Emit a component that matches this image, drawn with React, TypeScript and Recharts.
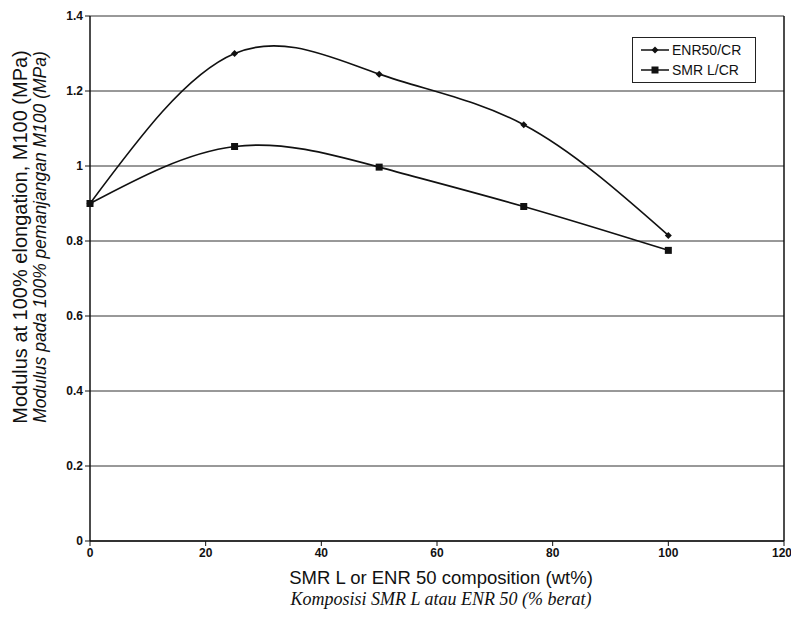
import React from 'react';
import { LineChart, Line, XAxis, YAxis, CartesianGrid, ReferenceLine, Label } from 'recharts';

const compositions = [0, 25, 50, 75, 100];
const enrValues = [0.9, 1.3, 1.245, 1.11, 0.815];
const smrValues = [0.9, 1.052, 0.997, 0.892, 0.775];
const seriesNames = ['ENR50/CR', 'SMR L/CR'];
const xTicks = [0, 20, 40, 60, 80, 100, 120];
const yTicks = [0, 0.2, 0.4, 0.6, 0.8, 1, 1.2, 1.4];

const data = compositions.map((c, i) => ({ x: c, enr: enrValues[i], smr: smrValues[i] }));

const sans = '"Liberation Sans", Arial, sans-serif';
const serif = '"Liberation Serif", "Times New Roman", serif';

const Diamond = (props: any) => {
    const { cx, cy } = props;
    if (cx == null || cy == null) return null;
    return <path d={`M${cx},${cy - 3.5}L${cx + 3.5},${cy}L${cx},${cy + 3.5}L${cx - 3.5},${cy}Z`} fill="#111" />;
};

const Square = (props: any) => {
    const { cx, cy } = props;
    if (cx == null || cy == null) return null;
    return <rect x={cx - 3.5} y={cy - 3.5} width={7} height={7} fill="#111" />;
};

// legend box sits top-right inside the plot, like the scanned figure
const LegendBox = () => (
    <div style={{ position: 'absolute', left: 632, top: 37, border: '1px solid #222', background: '#fff', padding: '2px 8px', width: 106, fontFamily: sans, fontSize: 14, color: '#111' }}>
        {[Diamond, Square].map((Mark, i) => (
            <div key={seriesNames[i]} style={{ display: 'flex', alignItems: 'center', height: 20 }}>
                <svg width={28} height={10} style={{ marginRight: 3 }}>
                    <line x1={0} y1={5} x2={28} y2={5} stroke="#111" strokeWidth={1.5} />
                    <Mark cx={14} cy={5} />
                </svg>
                <span>{seriesNames[i]}</span>
            </div>
        ))}
    </div>
);

export default function App() {
    return (
        <div style={{ position: 'absolute', left: 0, top: 0, width: 791, height: 621, background: '#fff' }}>
            <LineChart width={791} height={621} data={data} margin={{ top: 16, right: 7, left: 0, bottom: 0 }}>
                <CartesianGrid horizontal vertical={false} stroke="#333" strokeWidth={1} />
                <XAxis
                    dataKey="x"
                    type="number"
                    domain={[0, 120]}
                    ticks={xTicks}
                    height={80}
                    axisLine={{ stroke: '#111', strokeWidth: 1.5 }}
                    tickLine={{ stroke: '#111' }}
                    tickSize={5}
                    tick={{ fill: '#111', fontSize: 12, fontWeight: 'bold', fontFamily: sans }}
                >
                    <Label
                        content={() => (
                            <g>
                                <text x={441} y={584} textAnchor="middle" fontFamily={sans} fontSize={18.5} fill="#111">
                                    SMR L or ENR 50 composition (wt%)
                                </text>
                                <text x={441} y={605} textAnchor="middle" fontFamily={serif} fontStyle="italic" fontSize={18} fill="#111">
                                    Komposisi SMR L atau ENR 50 (% berat)
                                </text>
                            </g>
                        )}
                    />
                </XAxis>
                <YAxis
                    type="number"
                    domain={[0, 1.4]}
                    ticks={yTicks}
                    width={90}
                    axisLine={{ stroke: '#111', strokeWidth: 1.5 }}
                    tickLine={{ stroke: '#111' }}
                    tickSize={5}
                    tick={{ fill: '#111', fontSize: 12, fontWeight: 'bold', fontFamily: sans }}
                >
                    <Label
                        content={() => (
                            <g>
                                <text transform="translate(27,237) rotate(-90)" textAnchor="middle" fontFamily={sans} fontSize={20} fill="#111">
                                    Modulus at 100% elongation, M100 (MPa)
                                </text>
                                <text transform="translate(46,237) rotate(-90)" textAnchor="middle" fontFamily={sans} fontStyle="italic" fontSize={17.5} fill="#111">
                                    Modulus pada 100% pemanjangan M100 (MPa)
                                </text>
                            </g>
                        )}
                    />
                </YAxis>
                <ReferenceLine x={120} stroke="#111" strokeWidth={1.5} />
                <Line
                    type="natural"
                    dataKey="enr"
                    name={seriesNames[0]}
                    stroke="#111"
                    strokeWidth={1.6}
                    dot={<Diamond />}
                    activeDot={false}
                    isAnimationActive={false}
                />
                <Line
                    type="natural"
                    dataKey="smr"
                    name={seriesNames[1]}
                    stroke="#111"
                    strokeWidth={1.6}
                    dot={<Square />}
                    activeDot={false}
                    isAnimationActive={false}
                />
            </LineChart>
            <LegendBox />
        </div>
    );
}
